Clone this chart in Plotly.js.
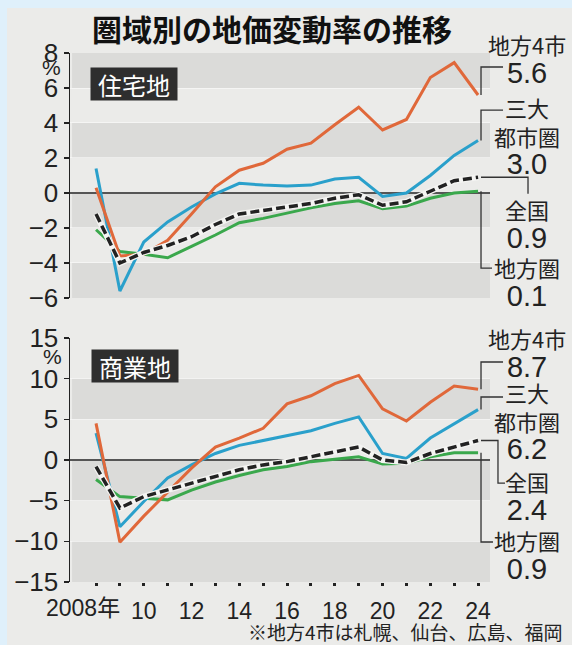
<!DOCTYPE html>
<html><head><meta charset="utf-8">
<script src="https://cdn.plot.ly/plotly-3.0.1.min.js"></script>
<style>html,body{margin:0;padding:0;background:#ebebe9;}#chart{width:572px;height:645px;}</style>
</head><body><div id="chart"></div>
<script>
// ---- data ----
const years = [2008,2009,2010,2011,2012,2013,2014,2015,2016,2017,2018,2019,2020,2021,2022,2023,2024];
const seriesNames = ['地方4市','三大都市圏','全国','地方圏'];
const seriesLabels = ['地方4市','三大<br>都市圏','全国','地方圏'];
// 住宅地
const resChihou4 = [0.3,-3.6,-3.5,-2.7,-1.2,0.35,1.3,1.7,2.5,2.85,3.9,4.9,3.6,4.2,6.6,7.45,5.6];
const resSandai  = [1.4,-5.6,-2.8,-1.65,-0.8,-0.05,0.55,0.45,0.4,0.45,0.8,0.9,-0.2,0.0,1.0,2.15,3.0];
const resZenkoku = [-1.2,-4.0,-3.4,-3.0,-2.5,-1.8,-1.2,-1.0,-0.8,-0.6,-0.3,-0.1,-0.7,-0.5,0.1,0.7,0.9];
const resChihouken = [-2.1,-3.35,-3.5,-3.7,-3.05,-2.4,-1.7,-1.45,-1.15,-0.85,-0.6,-0.45,-0.9,-0.75,-0.3,0.0,0.1];
// 商業地
const comChihou4 = [4.5,-10.1,-6.9,-4.0,-1.0,1.6,2.7,3.9,6.9,7.9,9.4,10.4,6.3,4.8,7.1,9.1,8.7];
const comSandai  = [3.3,-8.2,-5.1,-2.2,-0.6,0.8,1.8,2.4,3.0,3.6,4.5,5.3,0.8,0.2,2.7,4.5,6.2];
const comZenkoku = [-0.8,-5.9,-4.5,-3.7,-2.8,-2.0,-1.2,-0.6,-0.2,0.4,1.0,1.6,0.0,-0.3,0.8,1.6,2.4];
const comChihouken = [-2.4,-4.5,-4.7,-4.9,-3.7,-2.7,-1.9,-1.2,-0.8,-0.2,0.1,0.4,-0.5,-0.4,0.4,0.9,0.9];
const tickText = ['2008年','','10','','12','','14','','16','','18','','20','','22','','24'];
const topTicks = [-6,-4,-2,0,2,4,6,8];
const botTicks = [-15,-10,-5,0,5,10,15];

// ---- styles ----
const F = 'Noto Sans CJK JP, Noto Sans, sans-serif';
const FN = 'Liberation Sans, Noto Sans CJK JP, sans-serif';
const cOrange = '#e0683a', cBlue = '#2aa0cb', cGreen = '#3aa84c', cBlack = '#222';
const last = a => a[a.length-1];

function panel(xa, ya, o, b, k, g) {
  const base = {x: years, xaxis: xa, yaxis: ya, mode: 'lines', hoverinfo: 'skip'};
  return [
    Object.assign({}, base, {y: g, name: seriesNames[3], line: {color: cGreen, width: 3}}),
    Object.assign({}, base, {y: b, name: seriesNames[1], line: {color: cBlue, width: 3}}),
    Object.assign({}, base, {y: o, name: seriesNames[0], line: {color: cOrange, width: 3}}),
    Object.assign({}, base, {y: k, name: '', line: {color: '#f4f4f2', width: 6}}),
    Object.assign({}, base, {y: k, name: seriesNames[2], line: {color: cBlack, width: 3.5, dash: '9px,4px'}})
  ];
}
const data = panel('x','y',resChihou4,resSandai,resZenkoku,resChihouken)
  .concat(panel('x2','y2',comChihou4,comSandai,comZenkoku,comChihouken));

const yCommon = {
  ticks: 'outside', ticklen: 5, tickwidth: 1.5, tickcolor: '#222',
  showline: true, linecolor: '#222', linewidth: 1.5,
  showgrid: true, gridcolor: 'rgba(255,255,255,0.5)', gridwidth: 1,
  zeroline: true, zerolinecolor: '#555', zerolinewidth: 1.5,
  tickfont: {family: FN, size: 26, color: '#222'}, fixedrange: true
};
const xRange = [2006.91, 2024.5];

const shapes = [];
// alternating bands
[[6,8],[2,4],[-2,0],[-6,-4]].forEach(r => shapes.push({type:'rect', layer:'below', xref:'x domain', yref:'y', x0:0.005, x1:1, y0:r[0], y1:r[1], fillcolor:'#dbdbd9', line:{width:0}}));
[[5,10],[-5,0],[-15,-10]].forEach(r => shapes.push({type:'rect', layer:'below', xref:'x2 domain', yref:'y2', x0:0.005, x1:1, y0:r[0], y1:r[1], fillcolor:'#dbdbd9', line:{width:0}}));
// light blue frame (left & top)
shapes.push({type:'rect', xref:'paper', yref:'paper', x0:-0.17, x1:-0.15, y0:-0.13, y1:1.11, fillcolor:'#dff0fb', line:{width:0}});
shapes.push({type:'rect', xref:'paper', yref:'paper', x0:-0.17, x1:1.2, y0:1.0851, y1:1.11, fillcolor:'#dff0fb', line:{width:0}});

// brackets
const bx = 0.9786;
function br(yref, path) { shapes.push({type:'path', xref:'paper', yref: yref, path: path, line:{color:'#333', width:1.3}}); }
br('y', `M${bx},${last(resChihou4)} V7.2 H1.031`);
br('y', `M${bx},${last(resSandai)} V4.74 H1.031`);
br('y', `M${bx},${last(resZenkoku)} H1.0905 V-0.05`);
br('y', `M${bx},${last(resChihouken)} V-4.29 H1.0048`);
br('y2', `M${bx},${last(comChihou4)} V12.05 H1.031`);
br('y2', `M${bx},${last(comSandai)} V7.75 H1.031`);
br('y2', `M${bx},${last(comZenkoku)} H1.019 V-2.83 H1.0357`);
br('y2', `M${bx},${last(comChihouken)} V-10.08 H1.0071`);

const ann = [];
function lab(name, val, yref, y) {
  ann.push({text: name + '<br><span style="font-size:29px;font-family:Liberation Sans">' + val.toFixed(1) + '</span>',
    xref:'paper', x:1.088, xanchor:'center', yref: yref, y: y, yanchor:'middle', align:'center',
    showarrow:false, font:{family:F, size:22, color:'#222'}});
}
lab(seriesLabels[0], last(resChihou4), 'y', 7.71);
lab(seriesLabels[1], last(resSandai), 'y', 3.26);
lab(seriesLabels[2], last(resZenkoku), 'y', -1.74);
lab(seriesLabels[3], last(resChihouken), 'y', -5.06);
lab(seriesLabels[0], last(comChihou4), 'y2', 13.22);
lab(seriesLabels[1], last(comSandai), 'y2', 4.80);
lab(seriesLabels[2], last(comZenkoku), 'y2', -4.36);
lab(seriesLabels[3], last(comChihouken), 'y2', -11.56);

// panel badges
ann.push({text:'住宅地', xref:'paper', x:0.152, xanchor:'center', yref:'y', y:6.23, yanchor:'middle', showarrow:false, font:{family:F, size:24, color:'#fff'}, bgcolor:'#2e2e2e', width:84, height:30, borderpad:1});
ann.push({text:'商業地', xref:'paper', x:0.155, xanchor:'center', yref:'y2', y:11.56, yanchor:'middle', showarrow:false, font:{family:F, size:24, color:'#fff'}, bgcolor:'#2e2e2e', width:84, height:30, borderpad:1});
// % units
ann.push({text:'%', xref:'paper', x:-0.043, xanchor:'center', yref:'y', y:7.15, yanchor:'middle', showarrow:false, font:{family:FN, size:21, color:'#222'}});
ann.push({text:'%', xref:'paper', x:-0.041, xanchor:'center', yref:'y2', y:12.7, yanchor:'middle', showarrow:false, font:{family:FN, size:21, color:'#222'}});
// first x label
ann.push({text: tickText[0], xref:'x2', x: years[0], xanchor:'center', xshift:-13, yref:'paper', y:-0.049, yanchor:'middle', showarrow:false, font:{family:FN, size:23, color:'#222'}});
// footnote
ann.push({text:'※地方4市は札幌、仙台、広島、福岡', xref:'paper', x:1.1786, xanchor:'right', yref:'paper', y:-0.0945, yanchor:'middle', showarrow:false, font:{family:F, size:19, color:'#222'}});

const layout = {
  width: 572, height: 645,
  margin: {l:70, r:82, t:53, b:63},
  paper_bgcolor: '#ebebe9', plot_bgcolor: 'rgba(0,0,0,0)',
  showlegend: false,
  title: {text:'圏域別の地価変動率の推移', font:{family:F, size:30, color:'#111', weight:700},
          xref:'container', yref:'container', x:0.4755, xanchor:'center', y:0.953, yanchor:'middle'},
  xaxis: {domain:[0,1], range:xRange, anchor:'y', showticklabels:false, ticks:'', showline:false, showgrid:false, zeroline:false, fixedrange:true},
  yaxis: Object.assign({}, yCommon, {domain:[0.5369,1], range:[-6,8], tickvals: topTicks, anchor:'x'}),
  xaxis2: {domain:[0,1], range:xRange, anchor:'y2', tickvals: years, ticktext: tickText.map((t,i)=> i===0 ? '' : t),
           ticks:'outside', ticklen:3, tickwidth:3, tickcolor:'#222', showline:false, showgrid:false, zeroline:false,
           tickfont:{family:FN, size:23, color:'#222'}, ticklabelstandoff:5, fixedrange:true},
  yaxis2: Object.assign({}, yCommon, {domain:[0,0.4612], range:[-15,15], tickvals: botTicks, anchor:'x2'}),
  shapes: shapes,
  annotations: ann
};
Plotly.newPlot('chart', data, layout, {staticPlot:true, displayModeBar:false});
</script></body></html>
